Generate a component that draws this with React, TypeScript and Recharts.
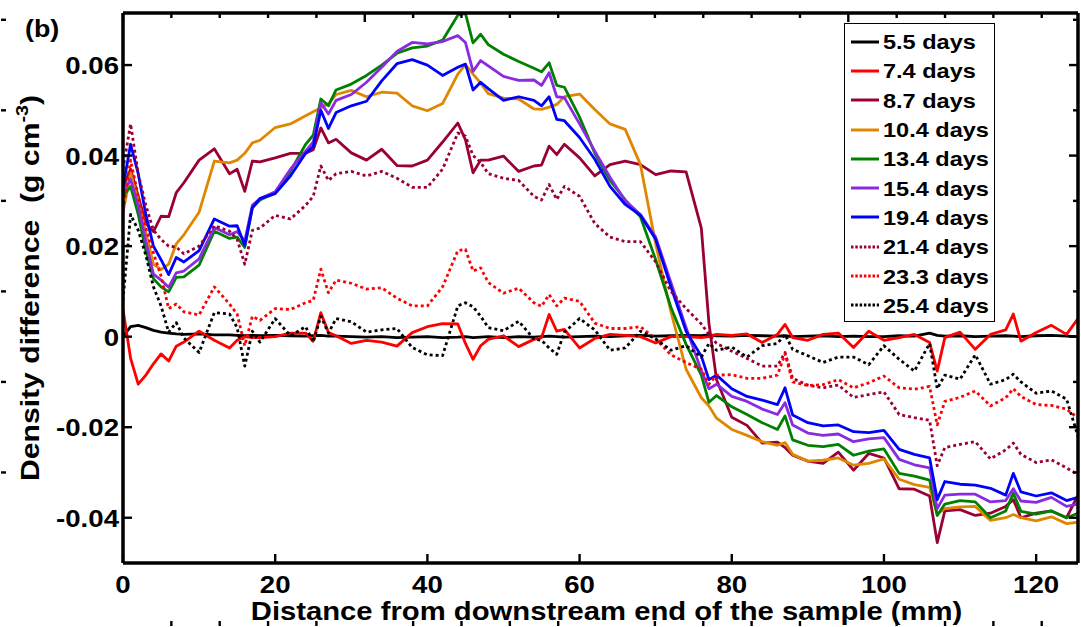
import { LineChart, Line, XAxis, YAxis, Legend } from 'recharts';

const FONT = '"Liberation Sans", Arial, Helvetica, sans-serif';

// distance from downstream end of the sample (mm)
const DIST = [
  0, 1, 2, 3, 4, 5, 6, 7, 8, 10,
  12, 14, 15, 16, 17, 18, 20, 22, 24, 25,
  26, 27, 28, 30, 32, 34, 36, 38, 40, 42,
  44, 45, 46, 47, 48, 50, 52, 54, 55, 56,
  57, 58, 60, 62, 64, 66, 68, 70, 72, 74,
  76, 77, 78, 80, 82, 84, 86, 87, 88, 90,
  92, 94, 96, 98, 100, 102, 104, 106, 107, 108,
  110, 112, 114, 116, 117, 118, 120, 122, 124, 125.5,
];

// density difference (g cm^-3), one list per day
const D5_5 = [
  0.0, 0.0022, 0.0025, 0.002, 0.0014, 0.001, 0.0008, 0.0006, 0.0005, 0.0006,
  0.0004, 0.0004, 0.0003, 0.0002, 0.0003, 0.0002, 0.0003, 0.0002, 0.0001, 0.0002,
  0.0003, 0.0001, 0.0001, 0.0, -0.0001, 0.0, -0.0002, -0.0001, 0.0, -0.0002,
  -0.0001, 0.0, -0.0002, -0.0001, 0.0, -0.0002, 0.0, -0.0001, 0.0, 0.0001,
  0.0, -0.0001, 0.0, 0.0001, 0.0, 0.0002, 0.0003, 0.0001, 0.0002, 0.0003,
  0.0002, 0.0004, 0.0002, 0.0001, 0.0003, 0.0002, 0.0001, 0.0002, 0.0, 0.0001,
  0.0002, 0.0, 0.0001, 0.0, 0.0, 0.0002, 0.0001, 0.0008, 0.0003, 0.0001,
  0.0002, 0.0, 0.0001, 0.0002, 0.0001, 0.0, 0.0002, 0.0003, 0.0001, 0.0,
];
const D7_4 = [
  0.006, -0.0048, -0.0105, -0.0085, -0.006, -0.0038, -0.0054, -0.0021, -0.0012, 0.0012,
  -0.0008, -0.0025, -0.0008, 0.0, -0.0002, -0.0002, 0.0, 0.0008, 0.0008, -0.001,
  0.0053, 0.0009, 0.0002, -0.0015, -0.0008, -0.0012, -0.0021, 0.0009, 0.0022, 0.0029,
  0.0028, -0.0015, -0.005, -0.002, -0.0006, 0.0002, -0.0022, -0.0006, -0.0002, 0.0049,
  0.0012, 0.0016, -0.0025, -0.0004, 0.0005, 0.0003, 0.0, -0.0014, 0.0, 0.0,
  -0.0002, 0.0, 0.0005, 0.0003, 0.0006, -0.0013, 0.0005, 0.0027, -0.0002, -0.0008,
  0.0005, 0.0008, -0.0024, 0.0012, -0.0008, -0.0002, 0.0005, -0.0013, -0.0076, -0.0002,
  0.001, -0.0028, 0.0005, 0.0015, 0.005, -0.001, 0.0009, 0.0025, 0.0005, 0.004,
];
const D8_7 = [
  0.033, 0.037, 0.031, 0.025, 0.0232, 0.0266, 0.0265, 0.0318, 0.034, 0.039,
  0.0415, 0.036, 0.037, 0.0321, 0.0388, 0.0386, 0.0395, 0.0405, 0.0405, 0.0413,
  0.0461, 0.0428, 0.0436, 0.0406, 0.039, 0.0414, 0.0378, 0.0377, 0.039, 0.043,
  0.0472, 0.0435, 0.0362, 0.039, 0.039, 0.0399, 0.0365, 0.0377, 0.0379, 0.0421,
  0.0402, 0.0425, 0.0395, 0.0355, 0.038, 0.0388, 0.038, 0.0358, 0.0366, 0.0364,
  0.024, 0.003, -0.0095, -0.0178, -0.0196, -0.0235, -0.0233, -0.0245, -0.0262, -0.0275,
  -0.028, -0.0255, -0.0295, -0.0258, -0.0268, -0.0336, -0.0337, -0.0352, -0.0455, -0.0385,
  -0.0382, -0.0395, -0.039, -0.0375, -0.036, -0.04, -0.039, -0.0385, -0.04, -0.035,
];
const D10_4 = [
  0.0274, 0.0362, 0.03, 0.023, 0.016, 0.0148, 0.016, 0.0205, 0.0225, 0.0275,
  0.0388, 0.0384, 0.039, 0.0405, 0.0428, 0.0434, 0.0462, 0.047, 0.0488, 0.0497,
  0.0505, 0.0515, 0.0535, 0.0544, 0.053, 0.054, 0.0538, 0.051, 0.0499, 0.0515,
  0.058, 0.0601, 0.058, 0.056, 0.0537, 0.0527, 0.0525, 0.0503, 0.0502, 0.0507,
  0.0513, 0.053, 0.0536, 0.0502, 0.047, 0.0458, 0.038, 0.0205, 0.0055, -0.0072,
  -0.0135, -0.0153, -0.018, -0.0205, -0.0218, -0.0232, -0.024, -0.0234, -0.026, -0.0275,
  -0.0273, -0.0268, -0.0284, -0.028, -0.027, -0.0315, -0.0327, -0.0333, -0.0392, -0.038,
  -0.0376, -0.0375, -0.0406, -0.04, -0.0393, -0.04, -0.0407, -0.0398, -0.0413, -0.041,
];
const D13_4 = [
  0.031, 0.0332, 0.027, 0.019, 0.0128, 0.011, 0.0099, 0.0131, 0.0132, 0.0158,
  0.0233, 0.0217, 0.022, 0.0197, 0.0285, 0.0302, 0.0318, 0.0365, 0.0425, 0.0445,
  0.0525, 0.051, 0.0545, 0.0558, 0.0577, 0.06, 0.0626, 0.0638, 0.0642, 0.0655,
  0.071, 0.0714, 0.0649, 0.0668, 0.0645, 0.0624, 0.0608, 0.0593, 0.0585, 0.0605,
  0.0555, 0.0551, 0.0485, 0.0405, 0.0345, 0.0302, 0.0265, 0.017, 0.0065, -0.0017,
  -0.0085, -0.0145, -0.013, -0.0155, -0.0172, -0.019, -0.0205, -0.0175, -0.0228, -0.024,
  -0.0243, -0.0238, -0.0262, -0.0253, -0.0248, -0.0302, -0.0308, -0.0317, -0.0395, -0.037,
  -0.0362, -0.0365, -0.04, -0.0385, -0.0346, -0.0386, -0.0392, -0.0385, -0.04, -0.039,
];
const D15_4 = [
  0.032, 0.0347, 0.029, 0.021, 0.0138, 0.0125, 0.0109, 0.0141, 0.0145, 0.0172,
  0.0241, 0.0225, 0.0232, 0.0211, 0.029, 0.0305, 0.032, 0.037, 0.041, 0.043,
  0.0517, 0.0492, 0.0522, 0.0535, 0.0562, 0.0595, 0.063, 0.065, 0.0647, 0.0652,
  0.0665, 0.065, 0.0586, 0.061, 0.0598, 0.0575, 0.0566, 0.0567, 0.0555, 0.0583,
  0.053, 0.0528, 0.047, 0.041, 0.0352, 0.03, 0.027, 0.022, 0.012, 0.002,
  -0.0075, -0.0115, -0.0105, -0.0132, -0.0143, -0.016, -0.0172, -0.0146, -0.0195, -0.0213,
  -0.0218, -0.0215, -0.0232, -0.0226, -0.0223, -0.0271, -0.0283, -0.029, -0.038, -0.035,
  -0.0348, -0.0348, -0.0365, -0.0362, -0.0336, -0.0363, -0.0366, -0.0355, -0.0375, -0.037,
];
const D19_4 = [
  0.033, 0.0425, 0.036, 0.027, 0.02, 0.017, 0.0137, 0.0175, 0.0165, 0.019,
  0.026, 0.0244, 0.0245, 0.0202, 0.0285, 0.0305, 0.0316, 0.0355, 0.0405, 0.042,
  0.05, 0.046, 0.0495, 0.051, 0.052, 0.0565, 0.0603, 0.0612, 0.06, 0.0577,
  0.0595, 0.0602, 0.0545, 0.0562, 0.0548, 0.0522, 0.053, 0.0522, 0.051, 0.053,
  0.048, 0.0477, 0.044, 0.0392, 0.0332, 0.0292, 0.0268, 0.0215, 0.011, 0.0012,
  -0.0043, -0.0095, -0.0085, -0.0115, -0.0132, -0.014, -0.015, -0.0113, -0.0173, -0.019,
  -0.0197, -0.0195, -0.021, -0.0212, -0.0207, -0.0249, -0.026, -0.0268, -0.036, -0.032,
  -0.0326, -0.0328, -0.0335, -0.035, -0.0302, -0.0343, -0.0352, -0.0345, -0.0362, -0.0355,
];
const D21_4 = [
  0.037, 0.047, 0.036, 0.029, 0.0235, 0.0215, 0.02, 0.0198, 0.0183, 0.02,
  0.0245, 0.0233, 0.0215, 0.016, 0.0235, 0.024, 0.0268, 0.026, 0.029, 0.031,
  0.0377, 0.0345, 0.036, 0.0365, 0.0355, 0.0365, 0.035, 0.033, 0.033, 0.037,
  0.045, 0.0443, 0.04, 0.0385, 0.036, 0.035, 0.0345, 0.031, 0.0302, 0.0336,
  0.0303, 0.0332, 0.031, 0.025, 0.022, 0.021, 0.021, 0.0165, 0.01, 0.0062,
  0.0028, 0.0005, -0.0015, -0.0032, -0.0048, -0.0065, -0.0065, -0.0035, -0.0092, -0.0107,
  -0.0113, -0.0107, -0.0134, -0.0128, -0.0122, -0.0172, -0.0179, -0.0185, -0.0285, -0.0245,
  -0.0238, -0.0232, -0.027, -0.025, -0.0235, -0.026, -0.0278, -0.0272, -0.029, -0.0305,
];
const D23_3 = [
  0.028, 0.039, 0.031, 0.024, 0.0185, 0.0134, 0.0062, 0.0072, 0.0055, 0.0048,
  0.011, 0.0072, 0.005, -0.002, 0.0045, 0.0036, 0.0062, 0.006, 0.0075, 0.008,
  0.0149, 0.0097, 0.0125, 0.0118, 0.0105, 0.0108, 0.0085, 0.0068, 0.0068, 0.011,
  0.019, 0.0193, 0.0145, 0.0152, 0.012, 0.0096, 0.0107, 0.0075, 0.0067, 0.0093,
  0.0068, 0.0085, 0.0078, 0.003, 0.0018, 0.0018, 0.0022, -0.0005, -0.004, -0.0057,
  -0.0072, -0.0105, -0.0085, -0.0084, -0.0092, -0.0092, -0.0085, -0.0038, -0.01, -0.0108,
  -0.0106, -0.0095, -0.0113, -0.0102, -0.0087, -0.0113, -0.0116, -0.011, -0.0195, -0.0143,
  -0.0134, -0.012, -0.0153, -0.0135, -0.0115, -0.0132, -0.015, -0.0152, -0.016, -0.018,
];
const D25_4 = [
  0.008, 0.027, 0.0235, 0.018, 0.011, 0.0068, 0.001, 0.0031, -0.0003, -0.0035,
  0.0053, 0.005, 0.002, -0.0065, 0.0012, -0.0012, 0.004, 0.0002, 0.0022, -0.0012,
  0.0045, 0.0008, 0.004, 0.0033, 0.001, 0.0015, 0.0018, -0.0024, -0.004, -0.0042,
  0.0068, 0.0075, 0.0066, 0.0045, 0.002, 0.0013, 0.0034, -0.0005, -0.0008, -0.0025,
  -0.0039, 0.001, 0.004, 0.0015, -0.003, -0.0025, 0.0012, -0.0005, -0.003, -0.002,
  -0.0045, -0.0015, -0.003, -0.0023, -0.0045, -0.002, -0.0015, 0.0005, -0.0028, -0.0042,
  -0.0057, -0.0045, -0.0045, -0.0062, -0.002, -0.005, -0.0076, -0.0015, -0.0115, -0.0085,
  -0.0094, -0.004, -0.0105, -0.0095, -0.0083, -0.01, -0.0125, -0.012, -0.0138, -0.022,
];

const X_MAJOR = [0, 20, 40, 60, 80, 100, 120];
const X_MINOR = [4, 8, 12, 16, 24, 28, 32, 36, 44, 48, 52, 56, 64, 68, 72, 76, 84, 88, 92, 96, 104, 108, 112, 116, 124];
const Y_MAJOR = [-0.04, -0.02, 0, 0.02, 0.04, 0.06];
const Y_MINOR = [-0.03, -0.01, 0.01, 0.03, 0.05, 0.07];

const SERIES = [
  { key: 'd55', name: '5.5 days', values: D5_5, color: '#000000', dotted: false },
  { key: 'd74', name: '7.4 days', values: D7_4, color: '#ff0000', dotted: false },
  { key: 'd87', name: '8.7 days', values: D8_7, color: '#990033', dotted: false },
  { key: 'd104', name: '10.4 days', values: D10_4, color: '#e08700', dotted: false },
  { key: 'd134', name: '13.4 days', values: D13_4, color: '#008000', dotted: false },
  { key: 'd154', name: '15.4 days', values: D15_4, color: '#8a2be2', dotted: false },
  { key: 'd194', name: '19.4 days', values: D19_4, color: '#0000ff', dotted: false },
  { key: 'd214', name: '21.4 days', values: D21_4, color: '#990033', dotted: true },
  { key: 'd233', name: '23.3 days', values: D23_3, color: '#ff0000', dotted: true },
  { key: 'd254', name: '25.4 days', values: D25_4, color: '#000000', dotted: true },
];

const rows = DIST.map((x, i) => {
  const r: Record<string, number> = { x };
  SERIES.forEach(s => { r[s.key] = s.values[i]; });
  return r;
});

const X_DOMAIN: [number, number] = [0, 125.5];
const Y_DOMAIN: [number, number] = [-0.05, 0.0715];
const FRAME = { stroke: '#000', strokeWidth: 3.5 };
const TICK_LINE = { stroke: '#000', strokeWidth: 2.4 };

// tick={false} would drop the tick lines too, so unlabelled axes get an empty label
const NoLabel = () => <g />;

function XLabel({ x, y, payload }: any) {
  return (
    <text
      transform={`translate(${x},${y + 30}) scale(1.15,1)`}
      textAnchor="middle"
      fontFamily={FONT}
      fontWeight={700}
      fontSize={24}
      fill="#000"
    >
      {payload.value}
    </text>
  );
}

function YLabel({ x, y, payload }: any) {
  const v = payload.value;
  return (
    <text
      transform={`translate(${x - 4},${y + 9}) scale(1.15,1)`}
      textAnchor="end"
      fontFamily={FONT}
      fontWeight={700}
      fontSize={24}
      fill="#000"
    >
      {v === 0 ? '0' : v.toFixed(2)}
    </text>
  );
}

function XTitle(props: any) {
  const vb = props.viewBox;
  return (
    <text
      transform={`translate(${vb.x + vb.width / 2 + 6},${vb.y + 57}) scale(1.125,1)`}
      textAnchor="middle"
      fontFamily={FONT}
      fontWeight={700}
      fontSize={26}
      fill="#000"
    >
      Distance from downstream end of the sample (mm)
    </text>
  );
}

function YTitle(props: any) {
  const vb = props.viewBox;
  return (
    <g>
      <text
        transform={`translate(39,${vb.y + vb.height / 2}) rotate(-90) scale(1.16,1)`}
        textAnchor="middle"
        fontFamily={FONT}
        fontWeight={700}
        fontSize={26}
        fill="#000"
      >
        Density difference{'\u00a0'} (g cm
        <tspan fontSize={17} dy={-11}>-3</tspan>
        <tspan dy={11}>)</tspan>
      </text>
      <text
        transform="translate(25,37) scale(1.12,1)"
        fontFamily={FONT}
        fontWeight={700}
        fontSize={24}
        fill="#000"
      >
        (b)
      </text>
    </g>
  );
}

const renderLegend = () => (
  <div style={{ paddingTop: 3, fontFamily: FONT, fontWeight: 700, color: '#000' }}>
    {SERIES.map(s => (
      <div key={s.key} style={{ display: 'flex', alignItems: 'center', height: 29.3 }}>
        <svg width={32} height={6} style={{ marginLeft: 6, flexShrink: 0 }}>
          <line
            x1={0}
            y1={3}
            x2={28}
            y2={3}
            stroke={s.color}
            strokeWidth={3}
            strokeDasharray={s.dotted ? '2.5 1.8' : undefined}
          />
        </svg>
        <span
          style={{
            fontSize: 21,
            lineHeight: 1,
            display: 'inline-block',
            transform: 'scaleX(1.12)',
            transformOrigin: 'left center',
            whiteSpace: 'nowrap',
          }}
        >
          {s.name}
        </span>
      </div>
    ))}
  </div>
);

export default function App() {
  return (
    <div style={{ position: 'absolute', left: 0, top: 0, width: 1081, height: 627, background: '#fff' }}>
      <LineChart width={1081} height={627} data={rows} margin={{ top: 11, right: 1, bottom: 0, left: 0 }}>
        {/* minor tick axes first so they sit right on the frame */}
        <XAxis
          xAxisId="xbm"
          type="number"
          orientation="bottom"
          domain={X_DOMAIN}
          allowDataOverflow
          ticks={X_MINOR}
          interval={0}
          height={1}
          tickSize={-5}
          tick={NoLabel}
          tickLine={TICK_LINE}
          axisLine={false}
        />
        <XAxis
          xAxisId="x"
          dataKey="x"
          type="number"
          orientation="bottom"
          domain={X_DOMAIN}
          allowDataOverflow
          ticks={X_MAJOR}
          interval={0}
          height={63}
          tickSize={-9}
          tickMargin={9}
          tickLine={TICK_LINE}
          axisLine={FRAME}
          tick={(p: any) => <XLabel {...p} />}
          label={(p: any) => <XTitle {...p} />}
        />
        <XAxis
          xAxisId="xt"
          type="number"
          orientation="top"
          domain={X_DOMAIN}
          allowDataOverflow
          ticks={X_MAJOR}
          interval={0}
          height={1}
          tickSize={-9}
          tick={NoLabel}
          tickLine={TICK_LINE}
          axisLine={FRAME}
        />
        <XAxis
          xAxisId="xtm"
          type="number"
          orientation="top"
          domain={X_DOMAIN}
          allowDataOverflow
          ticks={X_MINOR}
          interval={0}
          height={1}
          tickSize={-6}
          tick={NoLabel}
          tickLine={TICK_LINE}
          axisLine={false}
        />
        <YAxis
          yAxisId="ylm"
          type="number"
          orientation="left"
          domain={Y_DOMAIN}
          allowDataOverflow
          ticks={Y_MINOR}
          interval={0}
          width={1}
          tickSize={-5}
          tick={NoLabel}
          tickLine={TICK_LINE}
          axisLine={false}
        />
        <YAxis
          yAxisId="y"
          type="number"
          orientation="left"
          domain={Y_DOMAIN}
          allowDataOverflow
          ticks={Y_MAJOR}
          interval={0}
          width={122}
          tickSize={-9}
          tickMargin={9}
          tickLine={TICK_LINE}
          axisLine={FRAME}
          tick={(p: any) => <YLabel {...p} />}
          label={(p: any) => <YTitle {...p} />}
        />
        <YAxis
          yAxisId="yr"
          type="number"
          orientation="right"
          domain={Y_DOMAIN}
          allowDataOverflow
          ticks={Y_MAJOR}
          interval={0}
          width={1}
          tickSize={-9}
          tick={NoLabel}
          tickLine={TICK_LINE}
          axisLine={FRAME}
        />
        <YAxis
          yAxisId="yrm"
          type="number"
          orientation="right"
          domain={Y_DOMAIN}
          allowDataOverflow
          ticks={Y_MINOR}
          interval={0}
          width={1}
          tickSize={-6}
          tick={NoLabel}
          tickLine={TICK_LINE}
          axisLine={false}
        />
        <Legend
          layout="vertical"
          align="center"
          verticalAlign="middle"
          content={renderLegend}
          wrapperStyle={{
            left: 844,
            top: 23,
            width: 151,
            height: 299,
            border: '1.5px solid #000',
            boxSizing: 'border-box',
            background: '#fff',
          }}
        />
        {SERIES.map(s => (
          <Line
            key={s.key}
            xAxisId="x"
            yAxisId="y"
            type="linear"
            dataKey={s.key}
            name={s.name}
            stroke={s.color}
            strokeWidth={2.8}
            strokeDasharray={s.dotted ? '3 3' : undefined}
            strokeLinejoin="round"
            dot={false}
            activeDot={false}
            isAnimationActive={false}
          />
        ))}
      </LineChart>
    </div>
  );
}
